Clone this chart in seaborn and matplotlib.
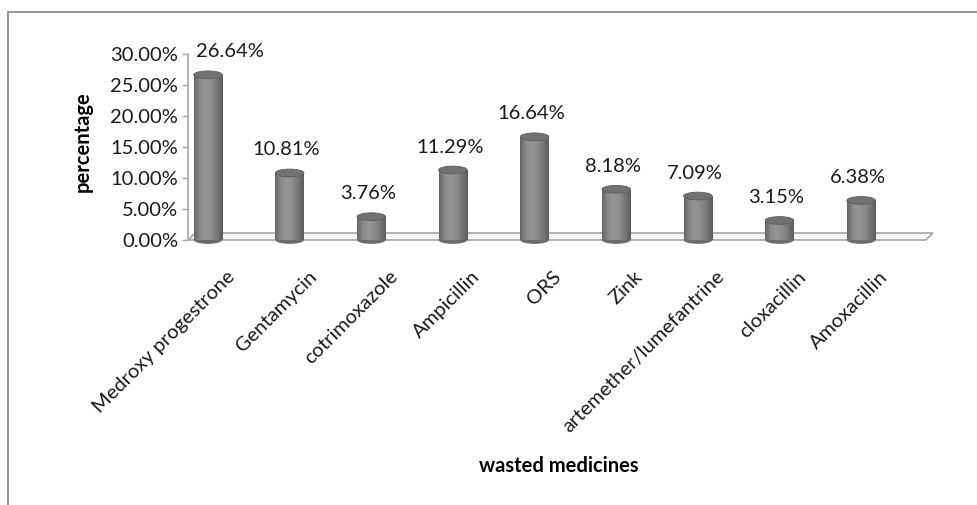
import numpy as np
import pandas as pd
import matplotlib
matplotlib.use("Agg")
import matplotlib.pyplot as plt
import matplotlib.transforms as mtransforms
from matplotlib.patches import Ellipse, Polygon, Rectangle
from matplotlib.colors import LinearSegmentedColormap
import seaborn as sns

# Wasted medicines, share of total (%)
medicines = ["Medroxy progestrone", "Gentamycin", "cotrimoxazole", "Ampicillin",
             "ORS", "Zink", "artemether/lumefantrine", "cloxacillin", "Amoxacillin"]
percentages = [26.64, 10.81, 3.76, 11.29, 16.64, 8.18, 7.09, 3.15, 6.38]
y_ticks = [0, 5, 10, 15, 20, 25, 30]

df = pd.DataFrame({"medicine": medicines, "pct": percentages})

sns.set_theme(style="white")
plt.rcParams["font.family"] = ["Lato", "DejaVu Sans"]

W, H, DPI = 977, 505, 100
FS = 14.5
fig = plt.figure(figsize=(W / DPI, H / DPI), dpi=DPI)
ax = fig.add_axes([188 / W, (H - 240) / H, 745 / W, 186 / H])

bar_w = 0.35
sns.barplot(data=df, x="medicine", y="pct", color="#8a8a8a", width=bar_w,
            saturation=1, ax=ax, zorder=3, linewidth=0)

ax.set_xlim(-0.245, 8.88)
ax.set_ylim(0, 30)
ax.set_yticks(y_ticks)
ax.set_yticklabels([f"{t:.2f}%" for t in y_ticks], fontsize=FS, color="#1a1a1a")

for s in ["top", "right", "bottom"]:
    ax.spines[s].set_visible(False)
ax.spines["left"].set_color("#a6a6a6")
ax.spines["left"].set_linewidth(1.2)
ax.tick_params(axis="y", which="both", left=True, length=4, width=1,
               color="#a6a6a6", pad=3)
ax.tick_params(axis="x", bottom=False, length=0)

# Floor slab
floor = Polygon([(-0.245, 0), (8.79, 0), (8.88, 1.13), (-0.16, 1.13)],
                closed=True, facecolor="#f4f4f4", edgecolor="#a6a6a6",
                linewidth=1.2, zorder=1, clip_on=False)
ax.add_patch(floor)

# Cylinder shading for each bar
cyl_cmap = LinearSegmentedColormap.from_list(
    "cyl", ["#646464", "#8a8a8a", "#969696", "#8c8c8c", "#767676", "#5c5c5c"])
grad = np.linspace(0, 1, 256).reshape(1, -1)
ell_h = 1.25
for bar, val in zip(ax.patches, percentages):
    x0 = bar.get_x()
    w = bar.get_width()
    xc = x0 + w / 2
    im = ax.imshow(grad, cmap=cyl_cmap, aspect="auto",
                   extent=(x0, x0 + w, 0, val), zorder=3.1)
    im.set_clip_path(bar)
    # rounded base
    base = Ellipse((xc, 0), w, ell_h, facecolor="#6c6c6c", edgecolor="none",
                   zorder=2.9, clip_on=False)
    ax.add_patch(base)
    im2 = ax.imshow(grad, cmap=cyl_cmap, aspect="auto",
                    extent=(x0, x0 + w, -ell_h / 2, 0), zorder=3.0)
    im2.set_clip_path(base)
    # top cap
    cap = Ellipse((xc, val), w, ell_h, facecolor="#727272",
                  edgecolor="#5e5e5e", linewidth=0.6, zorder=3.2)
    ax.add_patch(cap)

# Category labels, rotated
ax.set_xticks(range(len(medicines)))
ax.set_xticklabels(medicines, rotation=45, ha="right", rotation_mode="anchor",
                   fontsize=FS, color="#1a1a1a")
shift = mtransforms.ScaledTranslation(18 / DPI, -23 / DPI, fig.dpi_scale_trans)
for lbl in ax.get_xticklabels():
    lbl.set_transform(lbl.get_transform() + shift)

# Value labels
texts = []
for i, val in enumerate(percentages):
    t = ax.annotate(f"{val:.2f}%", xy=(i, val), xytext=(-3 / 1.389, 23 / 1.389),
                    textcoords="offset points", ha="center", va="center",
                    fontsize=FS, color="#1a1a1a", zorder=5, annotation_clip=False)
    texts.append(t)

# Keep value labels to the right of the value axis
fig.canvas.draw()
renderer = fig.canvas.get_renderer()
axis_px = ax.transData.transform((ax.get_xlim()[0], 0))[0]
for t in texts:
    bb = t.get_window_extent(renderer)
    if bb.x0 < axis_px + 8:
        dx = (axis_px + 8 - bb.x0) / 1.389
        ox, oy = t.xyann
        t.xyann = (ox + dx, oy)

ax.set_ylabel("percentage", fontsize=FS, fontweight="bold", color="#000000")
ax.yaxis.set_label_coords(-0.1275, 0.527)
fig.text(559 / W, 1 - 466 / H, "wasted medicines", ha="center", va="center",
         fontsize=FS, fontweight="bold", color="#000000")
ax.set_xlabel("")

# Chart area border
fig.patches.append(Rectangle((8 / W, -0.1), 1.2, 1 - 12 / H + 0.1,
                             transform=fig.transFigure, fill=False,
                             edgecolor="#8c8c8c", linewidth=1.3))

fig.savefig("out.png", dpi=DPI, facecolor="white")
